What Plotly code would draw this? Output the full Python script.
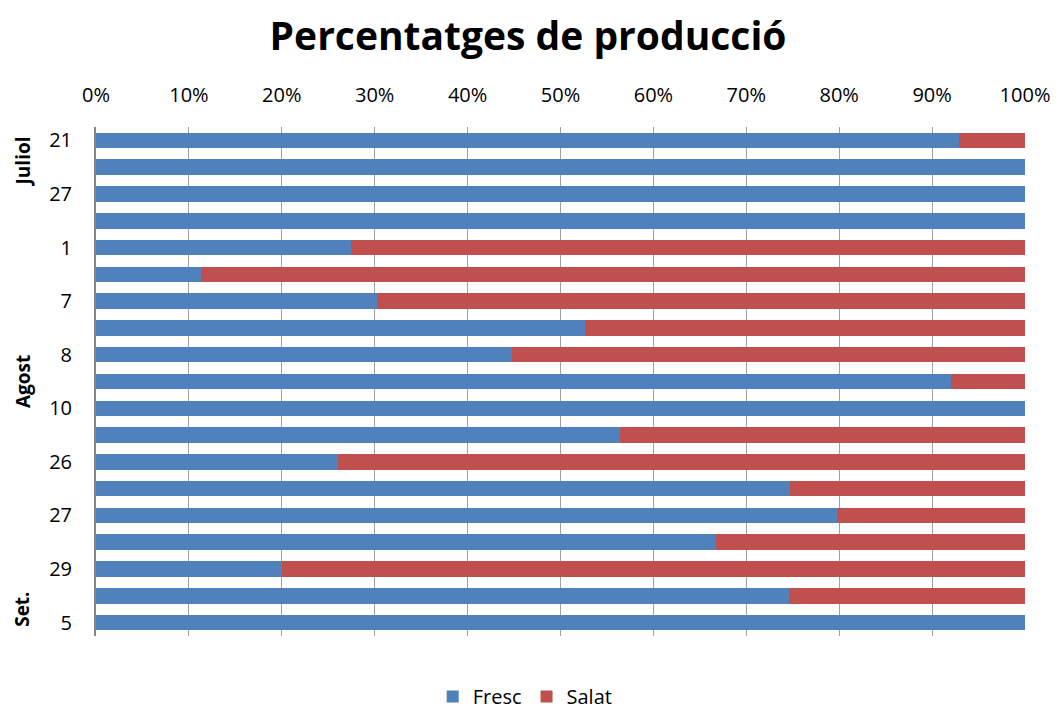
import plotly.graph_objects as go

# one bar per sampling day, top to bottom
day_labels = ["21", "", "27", "", "1", "", "7", "", "8", "", "10", "", "26", "", "27", "", "29", "", "5"]
fresc = [0.929, 1.0, 1.0, 1.0, 0.275, 0.113, 0.302, 0.526, 0.448, 0.920, 1.0,
         0.564, 0.260, 0.747, 0.798, 0.667, 0.200, 0.746, 1.0]
salat = [round(1 - v, 3) for v in fresc]
months = ["Juliol", "Agost", "Set."]
month_centres = [0.8, 9.0, 17.5]

positions = list(range(len(fresc)))

fig = go.Figure()
fig.add_trace(go.Bar(y=positions, x=fresc, name="Fresc", orientation="h",
                     marker=dict(color="#4F81BD", line=dict(width=0))))
fig.add_trace(go.Bar(y=positions, x=salat, name="Salat", orientation="h",
                     marker=dict(color="#C0504D", line=dict(width=0))))

for name, centre in zip(months, month_centres):
    fig.add_annotation(x=-0.079, xref="paper", xanchor="center", y=centre, yref="y",
                       text=f"<b>{name}</b>", showarrow=False, textangle=-90,
                       font=dict(size=19, color="black"))

fig.update_layout(
    barmode="stack",
    bargap=0.42,
    title=dict(text="<b>Percentatges de producció</b>", x=0.4906, xanchor="center",
               y=0.961, yanchor="middle", font=dict(size=39, color="black")),
    font=dict(family="Open Sans", size=20, color="black"),
    plot_bgcolor="white",
    paper_bgcolor="white",
    width=1060,
    height=720,
    margin=dict(l=88, r=43, t=119, b=74),
    showlegend=True,
    legend=dict(orientation="h", traceorder="normal", x=0.462, xanchor="center", y=-0.119,
                yanchor="middle", font=dict(size=20), itemwidth=30),
    xaxis=dict(side="top", range=[0, 1], dtick=0.1, tickformat=".0%", showgrid=True,
               gridcolor="#A0A0A0", gridwidth=1, zeroline=False, ticklabelstandoff=20,
               tickfont=dict(size=20), automargin=False),
    yaxis=dict(range=[18.5, -0.5], tickvals=positions, ticktext=day_labels, showgrid=False,
               showline=True, linecolor="#868686", linewidth=2, ticklabelstandoff=18,
               tickfont=dict(size=20), automargin=False),
)

fig.write_html("out.html")
